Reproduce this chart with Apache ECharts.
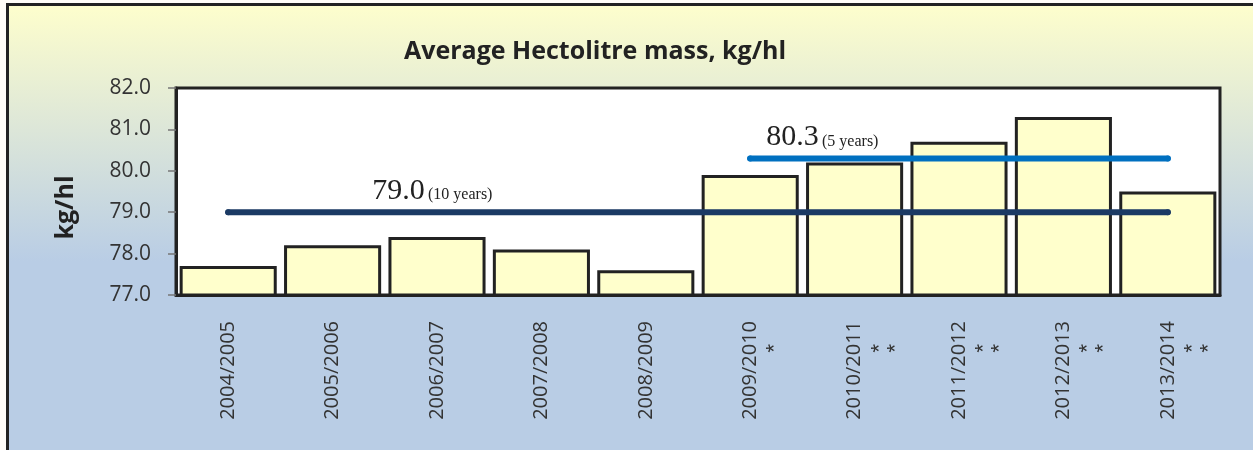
<!DOCTYPE html>
<html>
<head>
<meta charset="utf-8">
<script src="https://cdn.jsdelivr.net/npm/echarts@6/dist/echarts.min.js"></script>
<style>
  html, body { margin: 0; padding: 0; background: #fffdf8; }
  #chart { width: 1253px; height: 450px; }
</style>
</head>
<body>
<div id="chart"></div>
<script>
// seasons on the x axis, with the footnote marks printed beside them
const seasons = ['2004/2005', '2005/2006', '2006/2007', '2007/2008', '2008/2009',
  '2009/2010', '2010/2011', '2011/2012', '2012/2013', '2013/2014']
const seasonMarks = [0, 0, 0, 0, 0, 1, 2, 2, 2, 2]
const hectolitreMass = [77.7, 78.2, 78.4, 78.1, 77.6, 79.9, 80.2, 80.7, 81.3, 79.5]

// averages: value, first season and last season
const avg10 = [79.0, '2004/2005', '2013/2014']
const avg5 = [80.3, '2009/2010', '2013/2014']

const yMin = 77
const yMax = 82
const yStep = 1

const chart = echarts.init(document.getElementById('chart'))

function avgLine(avg, note, color, dx) {
  return {
    type: 'line',
    data: [
      { value: [avg[1], avg[0]], label: { show: true } },
      { value: [avg[2], avg[0]] }
    ],
    symbol: 'circle',
    symbolSize: 6,
    itemStyle: { color: color },
    lineStyle: { color: color, width: 6, cap: 'round' },
    label: {
      show: false,
      position: 'top',
      align: 'left',
      offset: [dx, 2],
      formatter: p => '{big|' + p.value[1].toFixed(1) + '} {small|' + note + '}',
      rich: {
        big: { fontFamily: 'Liberation Serif', fontSize: 30, color: '#222', lineHeight: 30 },
        small: { fontFamily: 'Liberation Serif', fontSize: 16, color: '#222', padding: [8, 0, 0, 0] }
      }
    },
    emphasis: { disabled: true },
    z: 3
  }
}

// one star per line after the season, and as many blank lines before it
// so the season text stays centred on its bar
function seasonLabel(v, i) {
  const n = seasonMarks[i]
  if (!n) return '{m|' + v + '}'
  const before = '{e| }\n'.repeat(n) + '{g| }\n'
  const after = '\n{g| }' + '\n{s|*}'.repeat(n)
  return before + '{m|' + v + '}' + after
}

chart.setOption({
  animation: false,
  backgroundColor: new echarts.graphic.LinearGradient(0, 0, 0, 1, [
    { offset: 0, color: '#FFFFCC' },
    { offset: 0.58, color: '#B9CDE5' },
    { offset: 1, color: '#B9CDE5' }
  ]),
  graphic: [
    { type: 'rect', shape: { x: 0, y: 0, width: 6, height: 450 }, style: { fill: '#fffdf8' }, silent: true },
    { type: 'rect', shape: { x: 0, y: 0, width: 1253, height: 3 }, style: { fill: '#fffdf8' }, silent: true },
    { type: 'rect', shape: { x: 7.5, y: 4.5, width: 1300, height: 500 }, style: { fill: 'none', stroke: '#222', lineWidth: 3 }, silent: true }
  ],
  title: {
    text: 'Average Hectolitre mass, kg/hl',
    left: 590,
    top: 34,
    textAlign: 'center',
    textStyle: { fontFamily: 'Open Sans', fontSize: 25, fontWeight: 'bold', color: '#222' }
  },
  grid: {
    left: 176,
    right: 33,
    top: 88,
    bottom: 155,
    show: true,
    backgroundColor: '#fff',
    borderColor: '#222',
    borderWidth: 3
  },
  xAxis: {
    type: 'category',
    data: seasons,
    axisLine: { lineStyle: { color: '#222', width: 3 } },
    axisTick: { length: 6, lineStyle: { color: '#777', width: 1.5 } },
    axisLabel: {
      interval: 0,
      rotate: 90,
      margin: 26,
      formatter: seasonLabel,
      rich: {
        e: { fontSize: 10, lineHeight: 16 },
        g: { fontSize: 4, lineHeight: 6 },
        m: { fontFamily: 'Open Sans', fontSize: 20, lineHeight: 22, color: '#333' },
        s: { fontFamily: 'Liberation Sans', fontSize: 22, lineHeight: 16, color: '#333', padding: [0, 23, 0, 0] }
      }
    }
  },
  yAxis: {
    type: 'value',
    min: yMin,
    max: yMax,
    interval: yStep,
    name: 'kg/hl',
    nameLocation: 'middle',
    nameGap: 98,
    nameTextStyle: { fontFamily: 'Open Sans', fontSize: 25, fontWeight: 'bold', color: '#222', padding: [0, 32, 0, 0] },
    axisLine: { show: true, lineStyle: { color: '#222', width: 3 } },
    axisTick: { show: true, length: 8, lineStyle: { color: '#777', width: 1.5 } },
    splitLine: { show: false },
    axisLabel: {
      margin: 25,
      fontFamily: 'Open Sans',
      fontSize: 21,
      color: '#333',
      formatter: v => v.toFixed(1)
    }
  },
  series: [
    {
      type: 'bar',
      data: hectolitreMass,
      barCategoryGap: '7%',
      itemStyle: { color: '#FFFFCC', borderColor: '#222', borderWidth: 3 },
      emphasis: { disabled: true }
    },
    avgLine(avg10, '(10 years)', '#1B3A64', 144),
    avgLine(avg5, '(5 years)', '#0070C0', 16)
  ]
})
</script>
</body>
</html>
